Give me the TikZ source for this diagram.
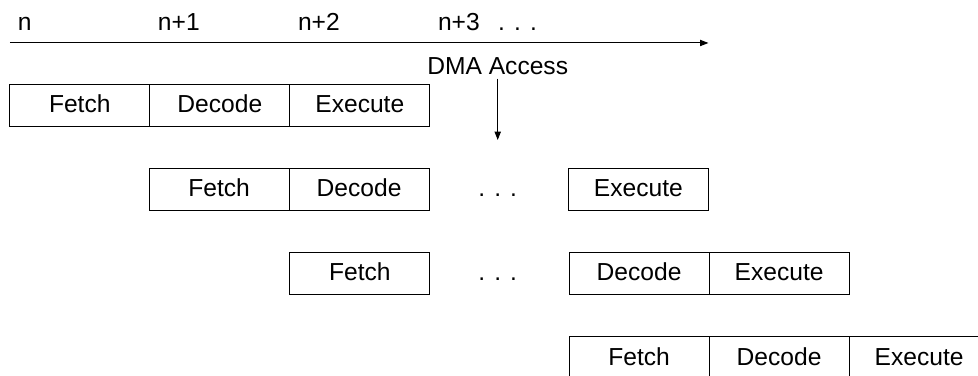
\documentclass[tikz,border=0pt]{standalone}
\usepackage{fontspec}
\setmainfont{Liberation Sans}
\usetikzlibrary{positioning,arrows.meta}

\tikzset{
  stage/.style={draw, minimum width=2cm, minimum height=6mm, inner sep=0pt,
    outer sep=0pt, text height=0.82em, text depth=0.2em},
  gap/.style={inner sep=0pt, text height=0.82em, text depth=0.2em},
  tip/.style={-{Triangle[length=1.2mm,width=0.9mm]}}
}

\begin{document}
\begin{tikzpicture}
\useasboundingbox (0,0) rectangle (13.971,-5.371);
% time axis
\coordinate (t0) at (0.14,-0.614);
\coordinate (t1) at (10.12,-0.614);
\draw[tip] (t0) -- (t1);
\foreach \i/\lbl in {0/n,1/n+1,2/n+2,3/n+3}
  \node[anchor=base west, inner sep=0pt] (tick\i) at (0.25+2*\i,-0.429) {\lbl};
\node[anchor=base west, inner sep=0pt] (tickdots) at (7.11,-0.429) {. . .};
% DMA access
\node[anchor=base, inner sep=0.4mm] (dma) at (7.11,-1.071) {DMA Access};
\coordinate (hit) at (7.11,-2.0);
\draw[tip] (dma.south) -- (hit);
% instruction 1
\node[stage] (f1) at (1.14,-1.5) {Fetch};
\node[stage, right=0pt of f1] (d1) {Decode};
\node[stage, right=0pt of d1] (x1) {Execute};
% instruction 2
\node[stage] (f2) at (3.13,-2.7) {Fetch};
\node[stage, right=0pt of f2] (d2) {Decode};
\node[gap] (w2) at (7.11,-2.7) {. . .};
\node[stage] (x2) at (9.12,-2.7) {Execute};
% instruction 3
\node[stage] (f3) at (5.14,-3.9) {Fetch};
\node[gap] (w3) at (7.11,-3.9) {. . .};
\node[stage] (d3) at (9.13,-3.9) {Decode};
\node[stage, right=0pt of d3] (x3) {Execute};
% instruction 4
\node[stage] (f4) at (9.13,-5.11) {Fetch};
\node[stage, right=0pt of f4] (d4) {Decode};
\node[stage, right=0pt of d4] (x4) {Execute};
\end{tikzpicture}
\end{document}
